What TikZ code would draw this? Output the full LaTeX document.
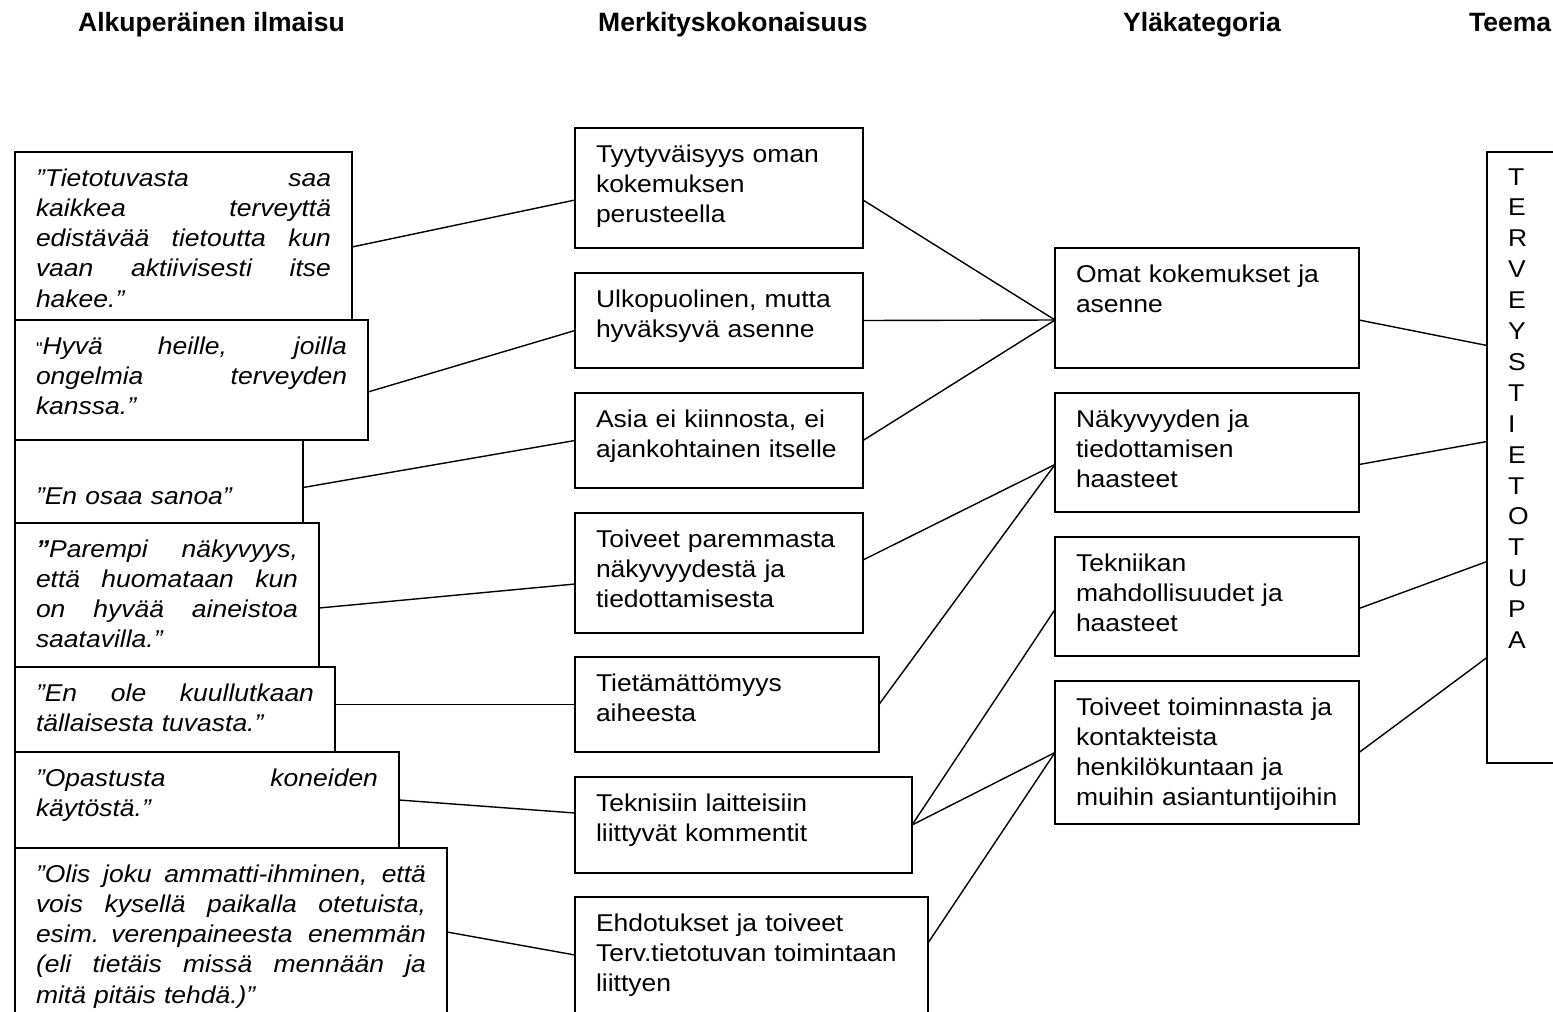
\documentclass[tikz,border=0pt]{standalone}
\usepackage{fontspec}
\usepackage{tikz}
\usetikzlibrary{positioning}
\newfontfamily\arialf{Liberation Sans}[FakeStretch=1.09]
\newfontfamily\headf{Liberation Sans}
\newcommand{\qwd}{0pt}
\newcommand{\jl}[1]{\leavevmode\hbox to \qwd{\spaceskip=0.28em plus 1fil\relax #1}}

\tikzset{
  head/.style={anchor=base west, inner sep=0pt, font=\headf\bfseries\fontsize{26.5}{30}\selectfont},
  mbox/.style={draw, line width=1.8pt, outer sep=0pt, anchor=north west, inner xsep=21pt, inner ysep=0pt,
    align=left, text height=34pt, font=\arialf\fontsize{24.3}{30.3}\selectfont},
  qbox/.style={mbox, text width=#1, execute at begin node={\def\qwd{#1}},
    font=\arialf\fontsize{24.3}{30.3}\selectfont\itshape},
  link/.style={line width=1.4pt}
}

\begin{document}
\begin{tikzpicture}[x=1pt,y=-1pt]
\useasboundingbox (0,0) rectangle (1553,1012);
\clip (0,0) rectangle (1553,1012);

\node[head] (h1) at (78,31) {Alkuperäinen ilmaisu};
\node[head] (h2) at (598,31) {Merkityskokonaisuus};
\node[head] (h3) at (1123,31) {Yläkategoria};
\node[head] (h4) at (1469,31) {Teema};

\node[qbox=295pt, text depth=134pt] (Q1) at (15,152)
  {\jl{”Tietotuvasta saa}\\\jl{kaikkea terveyttä}\\\jl{edistävää tietoutta kun}\\\jl{vaan aktiivisesti itse}\\hakee.”};
\node[qbox=311pt, text depth=86pt] (Q2) at (15,320)
  {\jl{{\upshape\fontsize{17}{20}\selectfont"}Hyvä heille, joilla}\\\jl{ongelmia terveyden}\\kanssa.”};
\node[qbox=246pt, text depth=49pt] (Q3) at (15,440)
  {\mbox{}\\”En osaa sanoa”};
\node[qbox=262pt, text depth=110pt] (Q4) at (15,523)
  {\jl{{\bfseries ”}Parempi näkyvyys,}\\\jl{että huomataan kun}\\\jl{on hyvää aineistoa}\\saatavilla.”};
\node[qbox=278pt, text depth=51pt] (Q5) at (15,667)
  {\jl{”En ole kuullutkaan}\\tällaisesta tuvasta.”};
\node[qbox=342pt, text depth=62pt] (Q6) at (15,752)
  {\jl{”Opastusta koneiden}\\käytöstä.”};
\node[qbox=390pt, text depth=134pt] (Q7) at (15,848)
  {\jl{”Olis joku ammatti-ihminen, että}\\\jl{vois kysellä paikalla otetuista,}\\\jl{esim. verenpaineesta enemmän}\\\jl{(eli tietäis missä mennään ja}\\mitä pitäis tehdä.)”};

\node[mbox, text width=246pt, text depth=86pt] (M1) at (575,128) {Tyytyväisyys oman\\kokemuksen\\perusteella};
\node[mbox, text width=246pt, text depth=61pt] (M2) at (575,273) {Ulkopuolinen, mutta\\hyväksyvä asenne};
\node[mbox, text width=246pt, text depth=61pt] (M3) at (575,393) {Asia ei kiinnosta, ei\\ajankohtainen itselle};
\node[mbox, text width=246pt, text depth=86pt] (M4) at (575,513) {Toiveet paremmasta\\näkyvyydestä ja\\tiedottamisesta};
\node[mbox, text width=262pt, text depth=61pt] (M5) at (575,657) {Tietämättömyys\\aiheesta};
\node[mbox, text width=295pt, text depth=62pt] (M6) at (575,777) {Teknisiin laitteisiin\\liittyvät kommentit};
\node[mbox, text width=311pt, text depth=82pt] (M7) at (575,897) {Ehdotukset ja toiveet\\Terv.tietotuvan toimintaan\\liittyen};

\node[mbox, text width=262pt, text depth=86pt] (C1) at (1055,248) {Omat kokemukset ja\\asenne};
\node[mbox, text width=262pt, text depth=85pt] (C2) at (1055,393) {Näkyvyyden ja\\tiedottamisen\\haasteet};
\node[mbox, text width=262pt, text depth=85pt] (C3) at (1055,537) {Tekniikan\\mahdollisuudet ja\\haasteet};
\node[mbox, text width=262pt, text depth=109pt] (C4) at (1055,681) {Toiveet toiminnasta ja\\kontakteista\\henkilökuntaan ja\\muihin asiantuntijoihin};

\node[mbox, text width=78pt, text height=33pt, text depth=578pt, font=\arialf\fontsize{24.3}{30.9}\selectfont] (T) at (1487,152)
  {T\\E\\R\\V\\E\\Y\\S\\T\\I\\E\\T\\O\\T\\U\\P\\A};

\draw[link] ([yshift=-11pt]Q1.east) -- ([yshift=-12pt]M1.west);
\draw[link] ([yshift=-12pt]Q2.east) -- ([yshift=-10pt]M2.west);
\draw[link] ([yshift=-6pt]Q3.east) -- (M3.west);
\draw[link] ([yshift=-13pt]Q4.east) -- ([yshift=-11pt]M4.west);
\draw[link] ([yshift=5pt]Q5.east) -- (M5.west);
\draw[link] (Q6.east) -- ([yshift=12pt]M6.west);
\draw[link] (Q7.east) -- (M7.west);

\draw[link] ([yshift=-12pt]M1.east) -- ([yshift=-12pt]C1.west);
\draw[link] (M2.east) -- ([yshift=-12pt]C1.west);
\draw[link] (M3.east) -- ([yshift=-12pt]C1.west);
\draw[link] ([yshift=13pt]M4.east) -- ([yshift=-12pt]C2.west);
\draw[link] (M5.east) -- ([yshift=-12pt]C2.west);
\draw[link] (M6.east) -- ([yshift=-13pt]C3.west);
\draw[link] (M6.east) -- (C4.west);
\draw[link] ([yshift=12pt]M7.east) -- (C4.west);

\draw[link] ([yshift=-12pt]C1.east) -- ([yshift=112pt]T.west);
\draw[link] ([yshift=-12pt]C2.east) -- ([yshift=16pt]T.west);
\draw[link] ([yshift=-12pt]C3.east) -- ([yshift=-104pt]T.west);
\draw[link] (C4.east) -- ([yshift=-200pt]T.west);
\end{tikzpicture}
\end{document}
